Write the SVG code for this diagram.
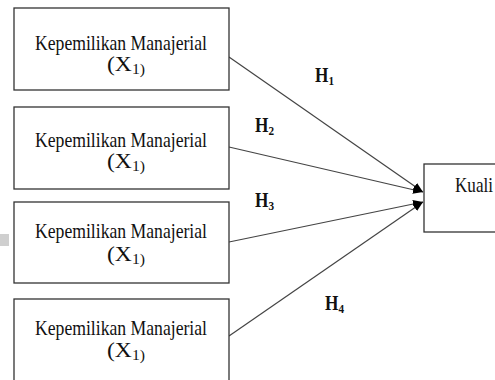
<svg xmlns="http://www.w3.org/2000/svg" width="495" height="380" viewBox="0 0 495 380">
<style>
.box{fill:#fff;stroke:#333;stroke-width:1.3}
text{font-family:'Liberation Serif','Times New Roman',serif;fill:#111}
.t{font-size:21px}
.s{font-size:14px}
.h{font-size:20px;font-weight:bold}
.hs{font-size:13px}
.c{stroke:#444;stroke-width:1.2;fill:none;marker-end:url(#ah)}
</style>
<defs>
<marker id="ah" viewBox="0 0 10 8" refX="10" refY="4" markerWidth="10" markerHeight="8" markerUnits="userSpaceOnUse" orient="auto">
<path d="M0,0 L10,4 L0,8 Z" fill="#000"/>
</marker>
</defs>
<rect width="495" height="380" fill="#fff"/>
<rect x="0" y="234" width="9" height="12" fill="#cfcfcf"/>
<g id="connectors">
<line class="c" x1="229" y1="57" x2="423" y2="192"/>
<line class="c" x1="229" y1="147" x2="423" y2="192"/>
<line class="c" x1="229" y1="242" x2="423" y2="202"/>
<line class="c" x1="229" y1="336" x2="423" y2="202"/>
<text class="h" x="315" y="82" textLength="19" lengthAdjust="spacingAndGlyphs">H<tspan class="hs" dy="3">1</tspan></text>
<text class="h" x="255" y="132" textLength="19" lengthAdjust="spacingAndGlyphs">H<tspan class="hs" dy="3">2</tspan></text>
<text class="h" x="255" y="207" textLength="19" lengthAdjust="spacingAndGlyphs">H<tspan class="hs" dy="3">3</tspan></text>
<text class="h" x="325" y="310" textLength="19" lengthAdjust="spacingAndGlyphs">H<tspan class="hs" dy="3">4</tspan></text>
</g>
<g id="x1a">
<rect class="box" x="14" y="8" width="215" height="82"/>
<text class="t" x="35" y="50" textLength="172" lengthAdjust="spacingAndGlyphs">Kepemilikan Manajerial</text>
<text class="t" x="107" y="71" textLength="38" lengthAdjust="spacingAndGlyphs">(X<tspan class="s" dy="3">1)</tspan></text>
</g>
<g id="x1b">
<rect class="box" x="14" y="107" width="215" height="82"/>
<text class="t" x="35" y="147" textLength="172" lengthAdjust="spacingAndGlyphs">Kepemilikan Manajerial</text>
<text class="t" x="107" y="168" textLength="38" lengthAdjust="spacingAndGlyphs">(X<tspan class="s" dy="3">1)</tspan></text>
</g>
<g id="x1c">
<rect class="box" x="14" y="202" width="215" height="81"/>
<text class="t" x="35" y="238" textLength="172" lengthAdjust="spacingAndGlyphs">Kepemilikan Manajerial</text>
<text class="t" x="107" y="261" textLength="38" lengthAdjust="spacingAndGlyphs">(X<tspan class="s" dy="3">1)</tspan></text>
</g>
<g id="x1d">
<rect class="box" x="14" y="299" width="215" height="90"/>
<text class="t" x="35" y="335" textLength="172" lengthAdjust="spacingAndGlyphs">Kepemilikan Manajerial</text>
<text class="t" x="107" y="357" textLength="38" lengthAdjust="spacingAndGlyphs">(X<tspan class="s" dy="3">1)</tspan></text>
</g>
<g id="y">
<rect class="box" x="424" y="164" width="80" height="68"/>
<text class="t" x="455" y="192" textLength="38" lengthAdjust="spacingAndGlyphs">Kuali</text>
</g>
</svg>
